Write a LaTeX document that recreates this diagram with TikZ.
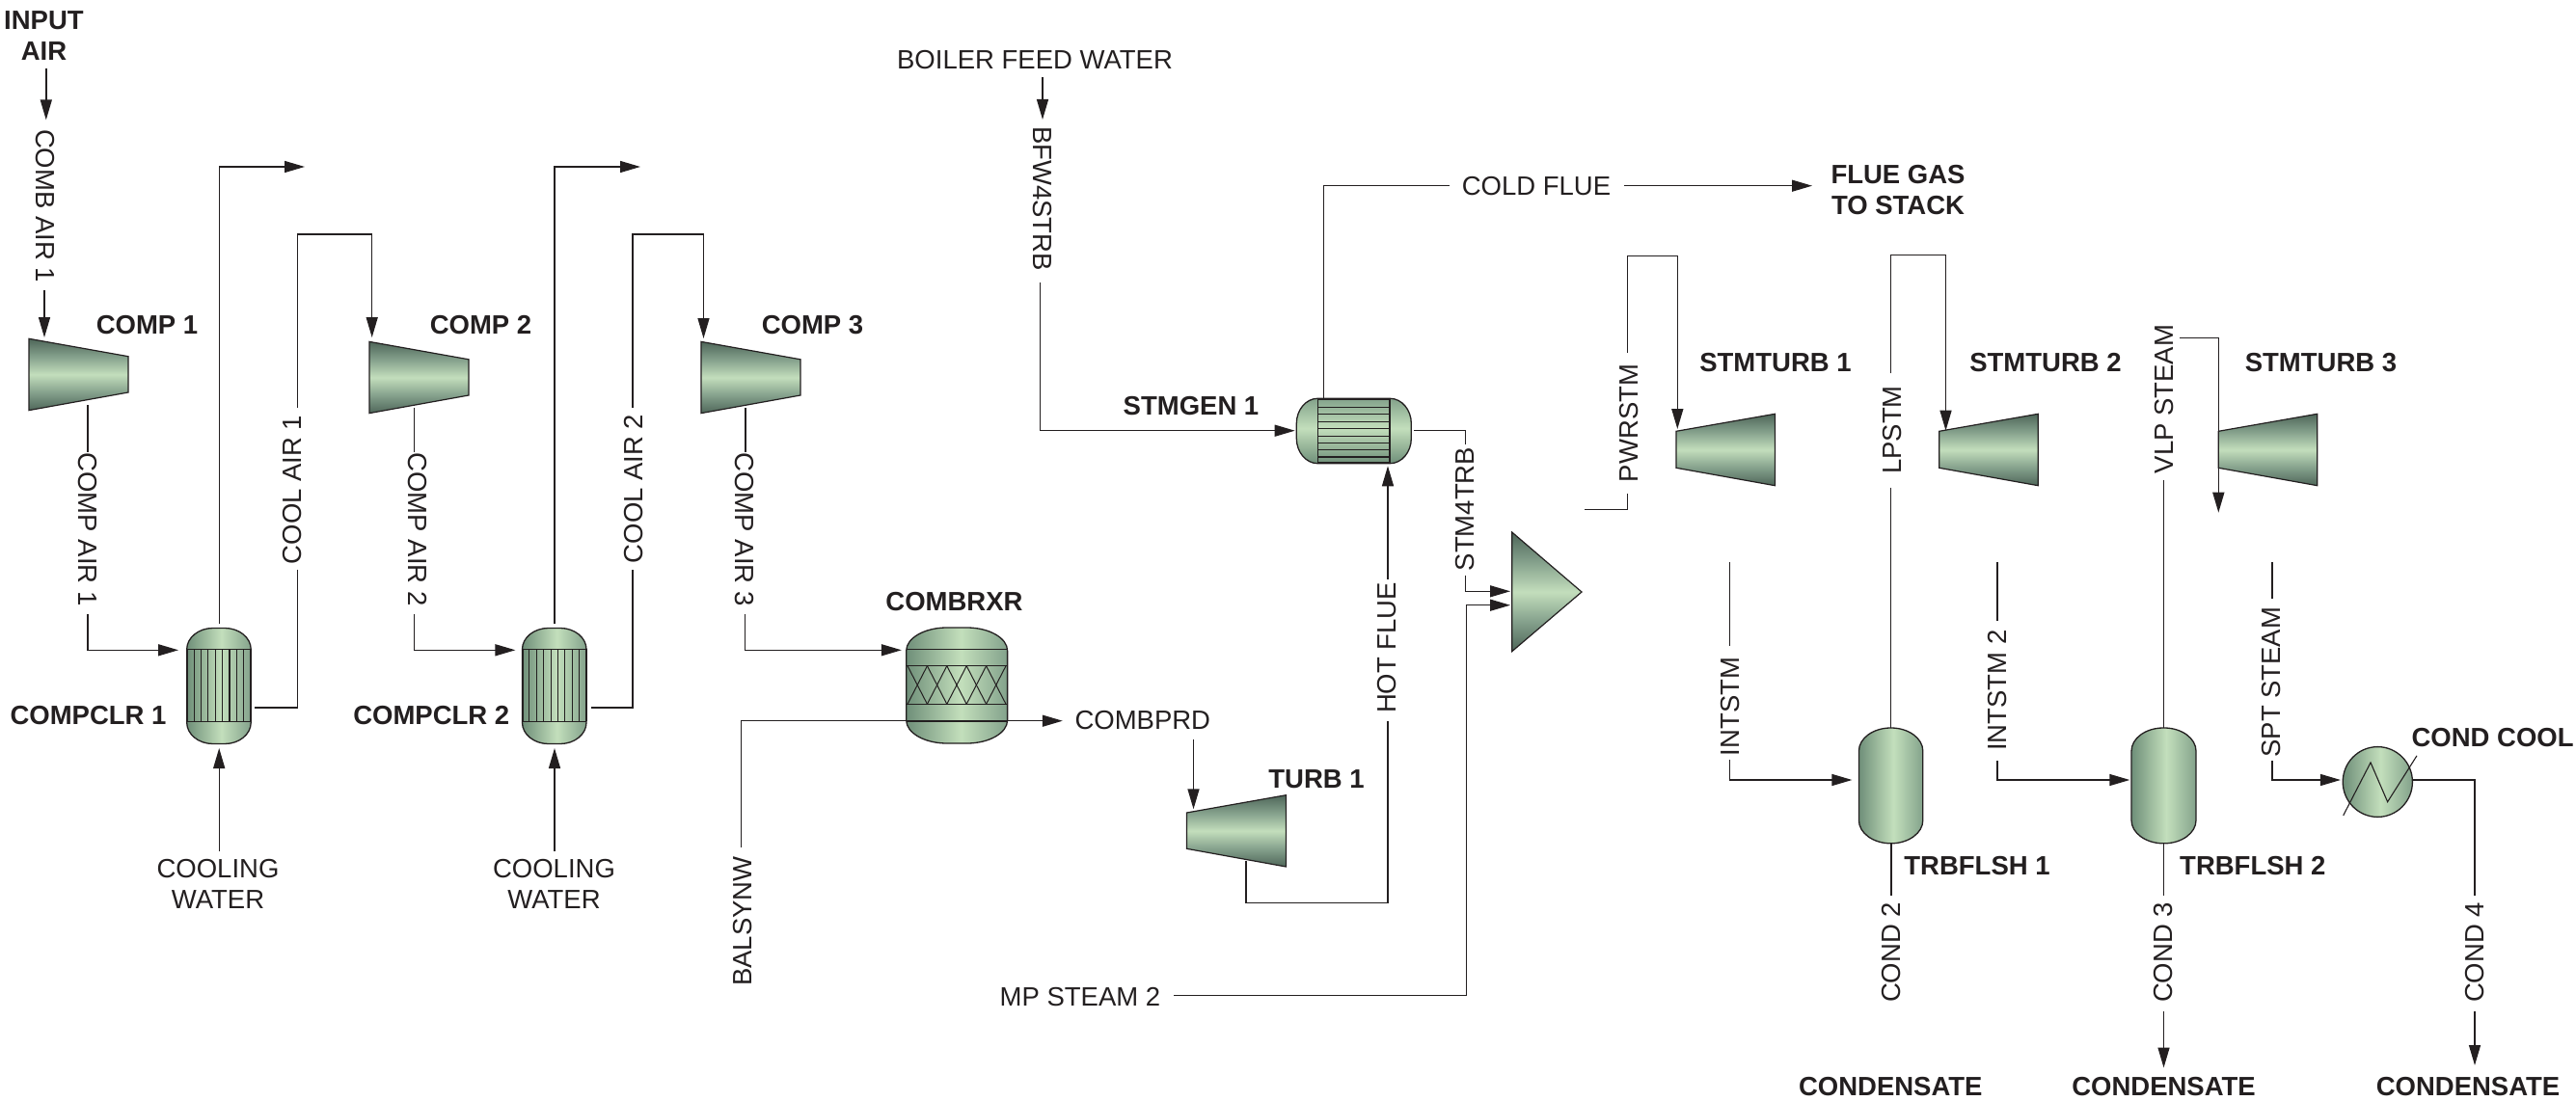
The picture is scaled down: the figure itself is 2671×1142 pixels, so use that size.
\documentclass[tikz,border=0pt]{standalone}
\usepackage{fontspec}
\setmainfont{Liberation Sans}
\usetikzlibrary{arrows.meta}
\definecolor{ink}{HTML}{231F20}
\definecolor{ca}{HTML}{4E6659}
\definecolor{cb}{HTML}{87A38E}
\definecolor{cc}{HTML}{C3DEBC}
\definecolor{va}{HTML}{6F8F79}
\definecolor{vb}{HTML}{C3DFBC}
\definecolor{vc}{HTML}{83A28B}
\pgfdeclareverticalshading{compshadeb}{100bp}{color(0bp)=(ca);color(25bp)=(ca);color(38bp)=(cb);color(50bp)=(cc);color(62bp)=(cb);color(75bp)=(ca);color(100bp)=(ca)}
\pgfdeclarehorizontalshading{vesselh}{100bp}{color(0bp)=(va);color(25bp)=(va);color(52bp)=(vb);color(75bp)=(vc);color(100bp)=(vc)}
\pgfdeclareverticalshading{vesselv}{100bp}{color(0bp)=(va);color(25bp)=(va);color(52bp)=(vb);color(75bp)=(vc);color(100bp)=(vc)}
\tikzset{
  lab/.style={inner sep=0pt,text=ink,font=\fontsize{27.5}{32}\selectfont,align=center},
  tag/.style={lab,font=\fontsize{27.5}{32}\selectfont\bfseries},
  flow/.style={draw=ink,line width=1.4pt},
  arr/.style={flow,-{Triangle[length=21pt,width=12pt]}},
  compbody/.style={draw=ink,line width=1.2pt,shading=compshadeb},
  vesselbody/.style={draw=ink,line width=1.3pt,shading=vesselh},
  hvesselbody/.style={draw=ink,line width=1.3pt,shading=vesselv},
  inner/.style={draw=ink,line width=1.1pt},
  thin/.style={draw=ink,line width=1.0pt},
  heavy/.style={draw=ink,line width=2.0pt}
}
\newcommand\capsule[6]{({#1},{#2+#6}) .. controls ({#1},{#2+.45*#6}) and ({#1+.45*#5},{#2}) .. ({#1+#5},{#2}) -- ({#3-#5},{#2}) .. controls ({#3-.45*#5},{#2}) and ({#3},{#2+.45*#6}) .. ({#3},{#2+#6}) -- ({#3},{#4-#6}) .. controls ({#3},{#4-.45*#6}) and ({#3-.45*#5},{#4}) .. ({#3-#5},{#4}) -- ({#1+#5},{#4}) .. controls ({#1+.45*#5},{#4}) and ({#1},{#4-.45*#6}) .. ({#1},{#4-#6}) -- cycle}
\newcommand\cooler[1]{%
  \path[vesselbody] \capsule{#1}{651.5}{#1+66.5}{771.5}{27}{22};
  \foreach \i in {1,...,8}{\draw[inner] ({#1+\i*7.39},673.3) -- ({#1+\i*7.39},748.3);}
  \draw[inner] (#1,673.3) -- ({#1+66.5},673.3);
  \draw[inner] (#1,748.3) -- ({#1+66.5},748.3);
  \draw[heavy] (#1,673.3) -- (#1,748.3);
  \draw[heavy] ({#1+66.5},673.3) -- ({#1+66.5},748.3);}
\begin{document}
\begin{tikzpicture}[x=1pt,y=-1pt]
\useasboundingbox (0,0) rectangle (2671,1142);
% ---------- text ----------
\node[tag] (inputair) at (45.5,37) {INPUT\\AIR};
\node[lab,rotate=-90] (combair1) at (47.3,213.5) {COMB AIR 1};
\node[tag] (comp1tag) at (152.5,337) {COMP 1};
\node[tag] (comp2tag) at (498.5,337) {COMP 2};
\node[tag] (comp3tag) at (842.5,337) {COMP 3};
\node[lab,rotate=-90] (compair1) at (90.6,549) {COMP AIR 1};
\node[lab,rotate=-90] (compair2) at (433,549) {COMP AIR 2};
\node[lab,rotate=-90] (compair3) at (772,549) {COMP AIR 3};
\node[lab,rotate=90] (coolair1) at (303,508) {COOL AIR 1};
\node[lab,rotate=90] (coolair2) at (656.7,507) {COOL AIR 2};
\node[tag] (clr1tag) at (91.5,741.7) {COMPCLR 1};
\node[tag] (clr2tag) at (447.3,741.7) {COMPCLR 2};
\node[lab] (cw1) at (226,917) {COOLING\\WATER};
\node[lab] (cw2) at (574.5,917) {COOLING\\WATER};
\node[tag] (rxrtag) at (989.5,624) {COMBRXR};
\node[lab] (combprd) at (1184.8,747.3) {COMBPRD};
\node[lab,rotate=90] (balsynw) at (770.5,955.5) {BALSYNW};
\node[tag] (turbtag) at (1365,808) {TURB 1};
\node[lab] (mpsteam) at (1120,1034) {MP STEAM 2};
\node[lab] (bfwater) at (1073,62.3) {BOILER FEED WATER};
\node[lab,rotate=-90] (bfw4) at (1080.6,206) {BFW4STRB};
\node[tag] (gentag) at (1235,421) {STMGEN 1};
\node[lab,rotate=90] (hotflue) at (1438,672) {HOT FLUE};
\node[lab,rotate=90] (stm4) at (1519.3,528) {STM4TRB};
\node[lab] (coldflue) at (1593,192.7) {COLD FLUE};
\node[tag] (stack) at (1968,197) {FLUE GAS\\TO STACK};
\node[lab,rotate=90] (pwr) at (1689.3,439) {PWRSTM};
\node[lab,rotate=90] (lp) at (1962.5,446) {LPSTM};
\node[lab,rotate=90] (vlp) at (2244,414) {VLP STEAM};
\node[tag] (st1tag) at (1841,376) {STMTURB 1};
\node[tag] (st2tag) at (2121,376) {STMTURB 2};
\node[tag] (st3tag) at (2406.5,376) {STMTURB 3};
\node[lab,rotate=90] (int1) at (1794.5,733) {INTSTM};
\node[lab,rotate=90] (int2) at (2071,716) {INTSTM 2};
\node[lab,rotate=90] (spt) at (2355,707.7) {SPT STEAM};
\node[tag] (condcool) at (2584.6,765.3) {COND COOL};
\node[tag] (fl1tag) at (2050,897.8) {TRBFLSH 1};
\node[tag] (fl2tag) at (2335.8,897.8) {TRBFLSH 2};
\node[lab,rotate=90] (cond2) at (1961,988) {COND 2};
\node[lab,rotate=90] (cond3) at (2243.5,988) {COND 3};
\node[lab,rotate=90] (cond4) at (2566,988) {COND 4};
\node[tag] (cs1) at (1960.3,1127) {CONDENSATE};
\node[tag] (cs2) at (2243.5,1127) {CONDENSATE};
\node[tag] (cs3) at (2559,1127) {CONDENSATE};
% ---------- connector end points ----------
\coordinate (a1) at (47.8,71);      \coordinate (a2) at (47.8,124.4);
\coordinate (a3) at (46,301);       \coordinate (c1in) at (46,350);
\coordinate (c1out) at (91,420);    \coordinate (b1) at (91,469);
\coordinate (b2) at (91,636.7);     \coordinate (k1w) at (185,674.3);
\coordinate (k1n) at (227.7,646.7); \coordinate (v1) at (316,173);
\coordinate (k1e) at (264,734);     \coordinate (d1) at (308.5,591);
\coordinate (d2) at (308.5,423);    \coordinate (e1) at (385.7,243);  \coordinate (c2in) at (385.7,350);
\coordinate (w1) at (227.2,883);    \coordinate (k1s) at (227.2,776);
\coordinate (c2out) at (429.5,423); \coordinate (b3) at (429.5,469);
\coordinate (b4) at (429.5,636.7);  \coordinate (k2w) at (534.4,674.3);
\coordinate (k2n) at (575,646.7);   \coordinate (v2) at (664,173);
\coordinate (k2e) at (612.5,734);   \coordinate (d3) at (656,591);
\coordinate (d4) at (656,423);      \coordinate (e2) at (729.5,243);  \coordinate (c3in) at (729.5,351);
\coordinate (w2) at (575,883);      \coordinate (k2s) at (575,776);
\coordinate (c3out) at (773,423);   \coordinate (b5) at (773,469);
\coordinate (b6) at (772.3,636.7);  \coordinate (rw) at (934.8,674.3);
\coordinate (f1) at (768.7,879);    \coordinate (f2) at (1101.8,747.7);
\coordinate (g1) at (1237.5,766.7); \coordinate (tin) at (1237.5,839.3);
\coordinate (tout) at (1292,893);   \coordinate (h1) at (1439,936.7); \coordinate (h2) at (1439,748);
\coordinate (h3) at (1439,600.7);   \coordinate (gs) at (1439,483.3);
\coordinate (i1) at (1081,80);      \coordinate (i2) at (1081,124);
\coordinate (i3) at (1078.7,293);   \coordinate (gw) at (1342.7,446.7);
\coordinate (gn) at (1372.3,413);   \coordinate (j1) at (1503,192.7);
\coordinate (j2) at (1683.7,192.7); \coordinate (j3) at (1879,192.7);
\coordinate (ge) at (1466,446.7);   \coordinate (l1) at (1519.3,460.7);
\coordinate (l2) at (1519.3,596.7); \coordinate (ma) at (1566,613.3);
\coordinate (m1) at (1217,1032.3);  \coordinate (m2) at (1520.3,627.7); \coordinate (mb) at (1566,627.7);
\coordinate (mo) at (1643.3,528.7); \coordinate (n1) at (1687.7,512.3);
\coordinate (n2) at (1687.7,366);   \coordinate (n3) at (1739.3,265.7); \coordinate (s1in) at (1739.3,445);
\coordinate (o1) at (1960.5,505.7); \coordinate (f1n) at (1960.5,755);
\coordinate (o2) at (1960.5,387.3); \coordinate (o3) at (2017.5,264.3); \coordinate (s2in) at (2017.5,446.7);
\coordinate (p1) at (2243.3,498.3); \coordinate (f2n) at (2243.3,755);
\coordinate (p2) at (2260,350.3);   \coordinate (s3) at (2300.3,531.7);
\coordinate (q1) at (1793.5,583.4); \coordinate (q2) at (1793.5,669.5);
\coordinate (q3) at (1793.5,788.3); \coordinate (f1w) at (1920.4,809);
\coordinate (r1) at (2070.8,583.4); \coordinate (r2) at (2070.8,643.5);
\coordinate (r3) at (2070.8,789);   \coordinate (f2w) at (2208.3,809);
\coordinate (t1) at (2355.8,583.4); \coordinate (t2) at (2355.8,621);
\coordinate (t3) at (2355.8,789);   \coordinate (ccw) at (2426.9,809);
\coordinate (cce) at (2501.5,809);  \coordinate (u1) at (2566,929.3);
\coordinate (u2) at (2566,1048.9);  \coordinate (u3) at (2566,1105);
\coordinate (x1) at (1961,874.8);   \coordinate (x2) at (1961,929.3);
\coordinate (y1) at (2243.5,874.8); \coordinate (y2) at (2243.5,929.3);
\coordinate (y3) at (2243.5,1048.9);\coordinate (y4) at (2243.5,1107.5);
% ---------- connectors ----------
\draw[arr] (a1) -- (a2);
\draw[arr] (a3) -- (c1in);
\draw[flow] (c1out) -- (b1);
\draw[arr] (b2) |- (k1w);
\draw[arr] (k1n) |- (v1);
\draw[flow] (k1e) -| (d1);
\draw[arr] (d2) |- (e1) -- (c2in);
\draw[arr] (w1) -- (k1s);
\draw[flow] (c2out) -- (b3);
\draw[arr] (b4) |- (k2w);
\draw[arr] (k2n) |- (v2);
\draw[flow] (k2e) -| (d3);
\draw[arr] (d4) |- (e2) -- (c3in);
\draw[arr] (w2) -- (k2s);
\draw[flow] (c3out) -- (b5);
\draw[arr] (b6) |- (rw);
\draw[arr] (f1) |- (f2);
\draw[arr] (g1) -- (tin);
\draw[flow] (tout) |- (h1) -- (h2);
\draw[arr] (h3) -- (gs);
\draw[arr] (i1) -- (i2);
\draw[arr] (i3) |- (gw);
\draw[flow] (gn) |- (j1);
\draw[arr] (j2) -- (j3);
\draw[flow] (ge) -| (l1);
\draw[arr] (l2) |- (ma);
\draw[arr] (m1) -| (m2) -- (mb);
\draw[flow] (mo) -| (n1);
\draw[arr] (n2) |- (n3) -- (s1in);
\draw[flow] (o1) -- (f1n);
\draw[arr] (o2) |- (o3) -- (s2in);
\draw[flow] (p1) -- (f2n);
\draw[flow] (q1) -- (q2);
\draw[arr] (q3) |- (f1w);
\draw[flow] (r1) -- (r2);
\draw[arr] (r3) |- (f2w);
\draw[flow] (t1) -- (t2);
\draw[arr] (t3) |- (ccw);
\draw[flow] (cce) -| (u1);
\draw[arr] (u2) -- (u3);
\draw[flow] (x1) -- (x2);
\draw[flow] (y1) -- (y2);
\draw[arr] (y3) -- (y4);
% ---------- compressors and turbines ----------
\path[compbody] (30,351.3) -- (133,369.7) -- (133,407) -- (30,425.6) -- cycle;
\path[compbody] (383,354.4) -- (486,372.8) -- (486,410) -- (383,428.6) -- cycle;
\path[compbody] (727,354.4) -- (830,372.8) -- (830,410) -- (727,428.6) -- cycle;
\path[compbody] (1230.4,843) -- (1333.5,824.7) -- (1333.5,899) -- (1230.4,880.3) -- cycle;
\path[compbody] (1738,447.3) -- (1840.5,429.3) -- (1840.5,503.7) -- (1738,485.3) -- cycle;
\path[compbody] (2010.7,447.3) -- (2113.3,429.3) -- (2113.3,503.7) -- (2010.7,485.3) -- cycle;
\path[compbody] (2300.3,447.3) -- (2402.8,429.3) -- (2402.8,503.7) -- (2300.3,485.3) -- cycle;
\path[compbody] (1567.7,552) -- (1640,614) -- (1567.7,675.7) -- cycle;
\draw[arr] (p2) -| (s3);
% ---------- coolers ----------
\cooler{193.7}
\cooler{541.5}
% ---------- reactor ----------
\path[vesselbody] \capsule{939.7}{651}{1044.6}{771}{42}{24};
\foreach \yy in {673.3,690.7,730.3,748}{\draw[inner] (939.7,\yy) -- (1044.6,\yy);}
\foreach \i in {0,...,4}{
  \draw[thin] ({941+\i*20.4},690.7) -- ({941+(\i+1)*20.4},730.3);
  \draw[thin] ({941+(\i+1)*20.4},690.7) -- ({941+\i*20.4},730.3);}
% ---------- steam generator ----------
\path[hvesselbody] \capsule{1344.3}{413.3}{1463.3}{480.7}{22}{26};
\foreach \yy in {422.3,429.7,437.3,444.7,452.3,459.7,466.7,474}{\draw[inner] (1366.3,\yy) -- (1441,\yy);}
\draw[inner] (1366.3,413.3) -- (1366.3,480.7);
\draw[inner] (1441,413.3) -- (1441,480.7);
\draw[heavy] (1366.3,413.6) -- (1441,413.6);
\draw[heavy] (1366.3,480.4) -- (1441,480.4);
% ---------- flash drums ----------
\path[vesselbody] \capsule{1927.4}{755}{1993.8}{874.8}{33}{24};
\path[vesselbody] \capsule{2210}{755}{2277}{874.8}{33}{24};
% ---------- condenser ----------
\path[vesselbody] (2465.3,811) ellipse [x radius=36.1,y radius=36.4];
\draw[inner] (2429.7,845.8) -- (2458,790.9) -- (2475.6,831.7) -- (2506,783.8);
\end{tikzpicture}
\end{document}
